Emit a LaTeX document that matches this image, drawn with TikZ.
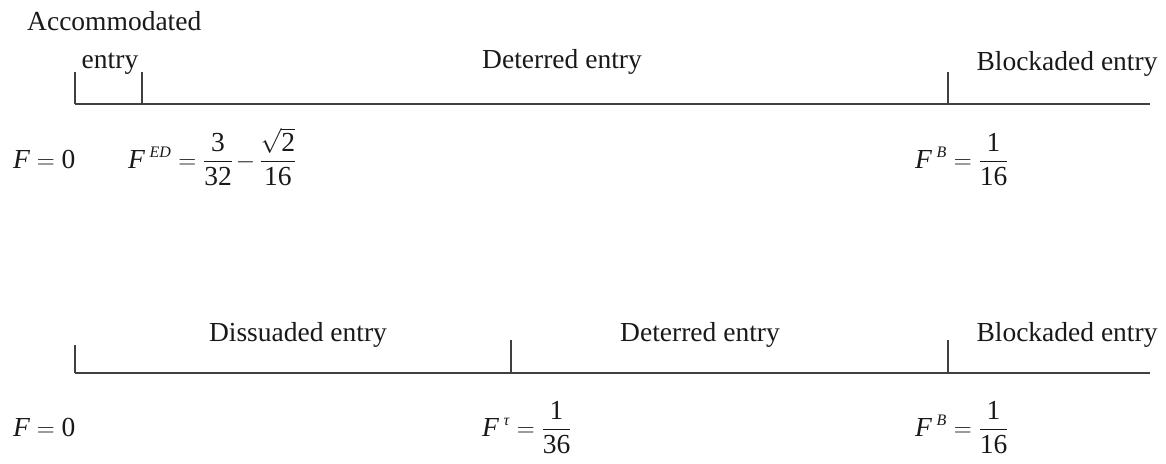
\documentclass[tikz,border=0pt]{standalone}
\usepackage{amsmath}
\usepackage{fontspec}
\setmainfont{Liberation Serif}
\newcommand{\Fi}{\mbox{\itshape F}}
\newcommand{\sups}[1]{\mkern4mu\mbox{\fontsize{16}{16}\selectfont\itshape #1}}
\newcommand{\nm}[1]{\mbox{#1}}
\begin{document}
\begin{tikzpicture}[x=1pt,y=-1pt,
  font=\fontsize{27.5}{33}\selectfont,
  lbl/.style={inner sep=0pt, anchor=base, text=black!90},
  lblw/.style={inner sep=0pt, anchor=base west, text=black!90},
  ax/.style={line width=1.4pt, draw=black!75}]
\useasboundingbox (0,0) rectangle (1166,463);
% top axis
\coordinate (t0) at (75,104);
\coordinate (t1) at (142,104);
\coordinate (t2) at (948,104);
\coordinate (tend) at (1150,104);
\coordinate (t0u) at (75,72);
\coordinate (t1u) at (142,72);
\coordinate (t2u) at (948,72);
\draw[ax] (t0) -- (tend);
\draw[ax] (t0) -- (t0u);
\draw[ax] (t1) -- (t1u);
\draw[ax] (t2) -- (t2u);
% bottom axis
\coordinate (b0) at (75,373);
\coordinate (b1) at (511,373);
\coordinate (b2) at (948,373);
\coordinate (bend) at (1150,373);
\coordinate (b0u) at (75,345);
\coordinate (b1u) at (511,340);
\coordinate (b2u) at (948,340);
\draw[ax] (b0) -- (bend);
\draw[ax] (b0) -- (b0u);
\draw[ax] (b1) -- (b1u);
\draw[ax] (b2) -- (b2u);
% top labels
\node[lblw] (acc) at (27,30) {Accommodated};
\node[lbl] (ent) at (110,68) {entry};
\node[lbl] (det1) at (562,68) {Deterred entry};
\node[lbl] (blk1) at (1067,70) {Blockaded entry};
\node[lblw] (f0a) at (13,168) {$\Fi = \nm{0}$};
\node[lblw] (fed) at (128,168) {$\displaystyle \Fi^{\sups{ED}} = \frac{\nm{3}}{\nm{32}}\mkern2mu{-}\mkern3mu\frac{\sqrt{\nm{2}}}{\nm{16}}$};
\node[lblw] (fb1) at (915,168) {$\displaystyle \Fi^{\sups{B}} = \frac{\nm{1}}{\nm{16}}$};
% bottom labels
\node[lbl] (dis) at (298,341) {Dissuaded entry};
\node[lbl] (det2) at (700,341) {Deterred entry};
\node[lbl] (blk2) at (1067,341) {Blockaded entry};
\node[lblw] (f0b) at (13,436) {$\Fi = \nm{0}$};
\node[lblw] (ftau) at (482,436) {$\displaystyle \Fi^{\sups{τ}} = \frac{\nm{1}}{\nm{36}}$};
\node[lblw] (fb2) at (915,436) {$\displaystyle \Fi^{\sups{B}} = \frac{\nm{1}}{\nm{16}}$};
\end{tikzpicture}
\end{document}
